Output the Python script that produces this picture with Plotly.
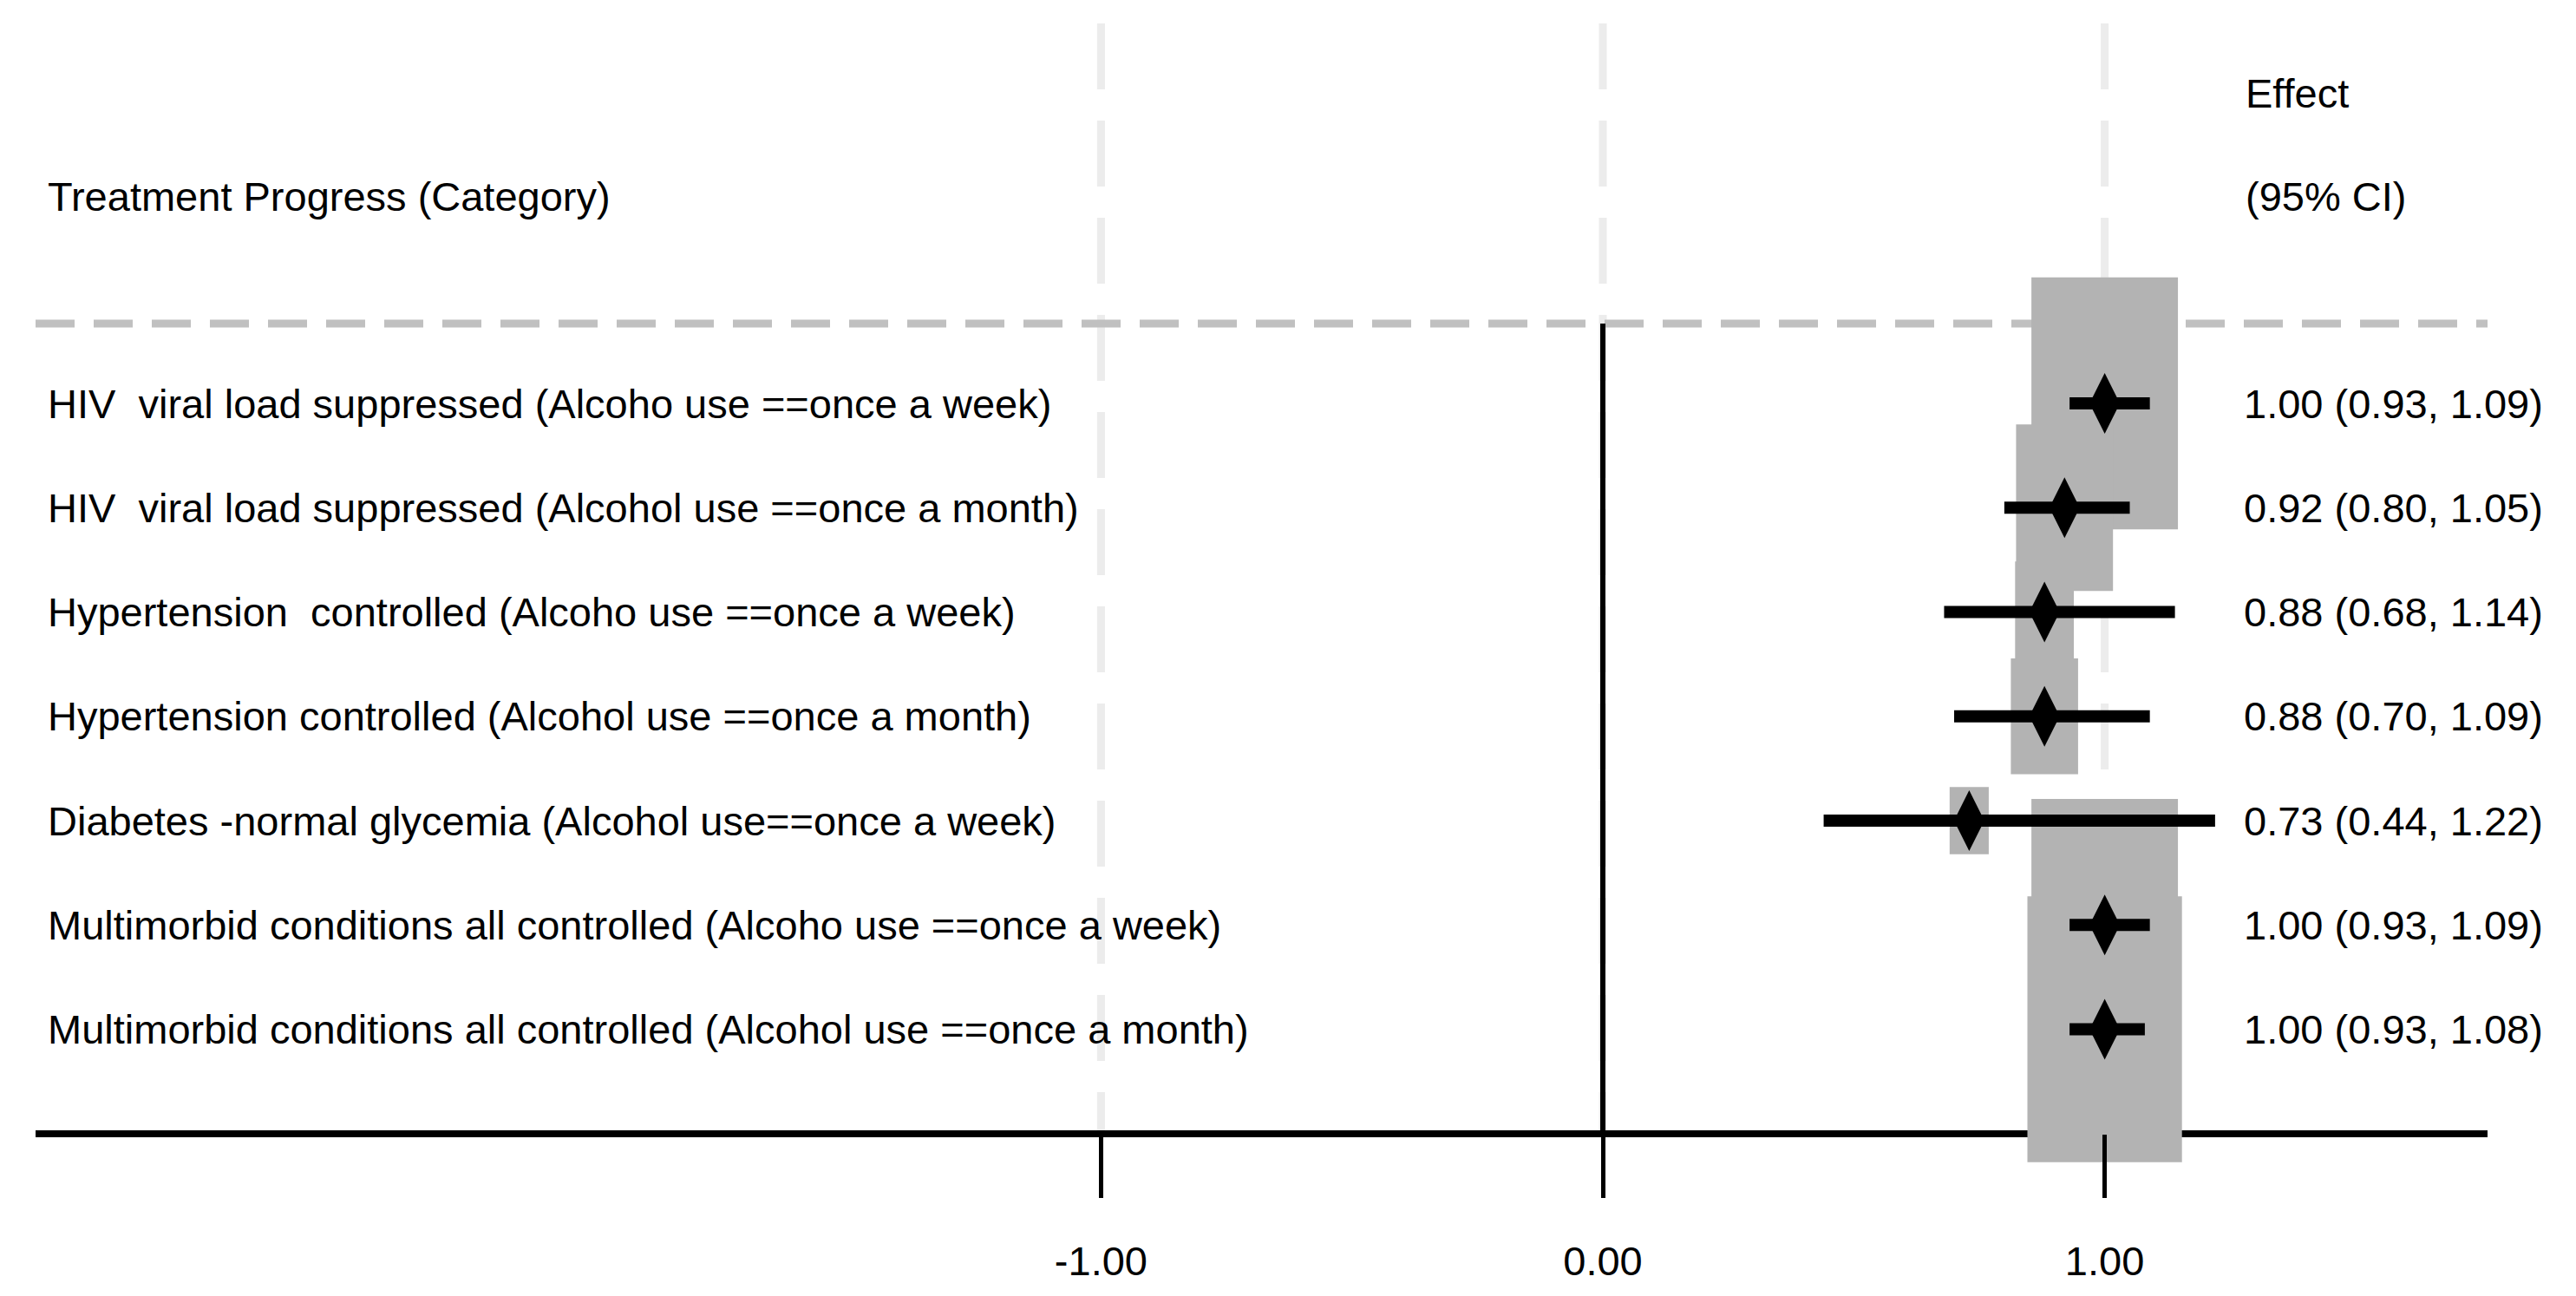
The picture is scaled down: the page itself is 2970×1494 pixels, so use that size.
import plotly.graph_objects as go

# ---------------- data ----------------
labels = [
    "HIV\u00a0 viral load suppressed (Alcoho use ==once a week)",
    "HIV\u00a0 viral load suppressed (Alcohol use ==once a month)",
    "Hypertension\u00a0 controlled (Alcoho use ==once a week)",
    "Hypertension controlled (Alcohol use ==once a month)",
    "Diabetes -normal glycemia (Alcohol use==once a week)",
    "Multimorbid conditions all controlled (Alcoho use ==once a week)",
    "Multimorbid conditions all controlled (Alcohol use ==once a month)",
]
estimate = [1.00, 0.92, 0.88, 0.88, 0.73, 1.00, 1.00]
lower = [0.93, 0.80, 0.68, 0.70, 0.44, 0.93, 0.93]
upper = [1.09, 1.05, 1.14, 1.09, 1.22, 1.09, 1.08]
weights = [94.8, 62.7, 38.0, 43.5, 25.3, 94.8, 100.0]   # relative box weights
tick_vals = [-1.0, 0.0, 1.0]
tick_text = ["-1.00", "0.00", "1.00"]
header_left = "Treatment Progress (Category)"
header_right = ["Effect", "(95% CI)"]

# ---------------- layout constants ----------------
W, H = 2970, 1494
PX_PER_UNIT = 578.6
ZERO_PX = 1840.0
ROW1_PX = 457.0
ROW_PX = 120.25
AXIS_PX = 1299.0
HEAD_LINE_PX = 365.0
BOX_MAX_W = 0.308          # x-units for weight 100
BOX_ASPECT = 1.72          # box height px / box width px

FONT = "Liberation Sans Narrow, Arial Narrow, Liberation Sans, Arial, sans-serif"
FS = 47

def py(px):  # pixel -> paper y
    return 1 - px / H

def px_x(px):  # pixel -> paper x
    return px / W

xr = [-ZERO_PX / PX_PER_UNIT, (W - ZERO_PX) / PX_PER_UNIT]
yr = [1 + (H - ROW1_PX) / ROW_PX, 1 - ROW1_PX / ROW_PX]

rows = list(range(1, len(labels) + 1))

fig = go.Figure()

shapes = []
# light dashed gridlines
for tv in tick_vals:
    shapes.append(dict(type="line", xref="x", yref="paper", x0=tv, x1=tv,
                       y0=py(19), y1=py(AXIS_PX), layer="below",
                       line=dict(color="#ececec", width=9, dash="76px,36px")))
# dashed header separator
shapes.append(dict(type="line", xref="paper", yref="paper", x0=px_x(33), x1=px_x(2860),
                   y0=py(HEAD_LINE_PX), y1=py(HEAD_LINE_PX), layer="below",
                   line=dict(color="#c0c0c0", width=9, dash="45px,22px")))
# weight boxes
for r, e, wgt in zip(rows, estimate, weights):
    bw = BOX_MAX_W * wgt / 100.0
    bh_rows = bw * PX_PER_UNIT * BOX_ASPECT / ROW_PX
    shapes.append(dict(type="rect", xref="x", yref="y", x0=e - bw / 2, x1=e + bw / 2,
                       y0=r - bh_rows / 2, y1=r + bh_rows / 2, layer="below",
                       fillcolor="#b3b3b3", line=dict(width=0)))
# zero reference line
shapes.append(dict(type="line", xref="x", yref="paper", x0=0, x1=0,
                   y0=py(HEAD_LINE_PX), y1=py(AXIS_PX), layer="below",
                   line=dict(color="black", width=6)))
# bottom axis line
shapes.append(dict(type="line", xref="paper", yref="paper", x0=px_x(33), x1=px_x(2860),
                   y0=py(AXIS_PX), y1=py(AXIS_PX), layer="below",
                   line=dict(color="black", width=8)))

# CI lines
ci_x, ci_y = [], []
for r, lo, hi in zip(rows, lower, upper):
    ci_x += [lo, hi, None]
    ci_y += [r, r, None]
fig.add_trace(go.Scatter(x=ci_x, y=ci_y, mode="lines",
                         line=dict(color="black", width=14), hoverinfo="skip",
                         showlegend=False))
fig.add_trace(go.Scatter(x=estimate, y=rows, mode="markers",
                         marker=dict(symbol="diamond-tall", size=50, color="black",
                                     line=dict(width=0)),
                         showlegend=False, cliponaxis=False))

annotations = []
for r, lab in zip(rows, labels):
    annotations.append(dict(x=px_x(45), y=r, xref="paper", yref="y", text=lab,
                            showarrow=False, xanchor="left", yanchor="middle",
                            font=dict(family=FONT, size=FS, color="black")))
for r, e, lo, hi in zip(rows, estimate, lower, upper):
    annotations.append(dict(x=px_x(2577), y=r, xref="paper", yref="y",
                            text=f"{e:.2f} ({lo:.2f}, {hi:.2f})",
                            showarrow=False, xanchor="left", yanchor="middle",
                            font=dict(family=FONT, size=FS, color="black")))
annotations.append(dict(x=px_x(45), y=py(218), xref="paper", yref="paper", text=header_left,
                        showarrow=False, xanchor="left", yanchor="middle",
                        font=dict(family=FONT, size=FS, color="black")))
annotations.append(dict(x=px_x(2579), y=py(99), xref="paper", yref="paper", text=header_right[0],
                        showarrow=False, xanchor="left", yanchor="middle",
                        font=dict(family=FONT, size=FS, color="black")))
annotations.append(dict(x=px_x(2579), y=py(218), xref="paper", yref="paper", text=header_right[1],
                        showarrow=False, xanchor="left", yanchor="middle",
                        font=dict(family=FONT, size=FS, color="black")))

fig.update_layout(
    width=W, height=H,
    margin=dict(l=0, r=0, t=0, b=0),
    paper_bgcolor="white", plot_bgcolor="white",
    shapes=shapes, annotations=annotations,
    xaxis=dict(range=xr, showgrid=False, zeroline=False, showline=False,
               tickmode="array", tickvals=tick_vals, ticktext=tick_text,
               ticks="outside", ticklen=73, tickwidth=5, tickcolor="black",
               anchor="free", position=py(AXIS_PX), side="bottom",
               tickfont=dict(family=FONT, size=FS, color="black"),
               ticklabelstandoff=33),
    yaxis=dict(range=yr, showgrid=False, zeroline=False, showline=False,
               showticklabels=False, ticks=""),
    showlegend=False,
)

fig.write_html("out.html")
